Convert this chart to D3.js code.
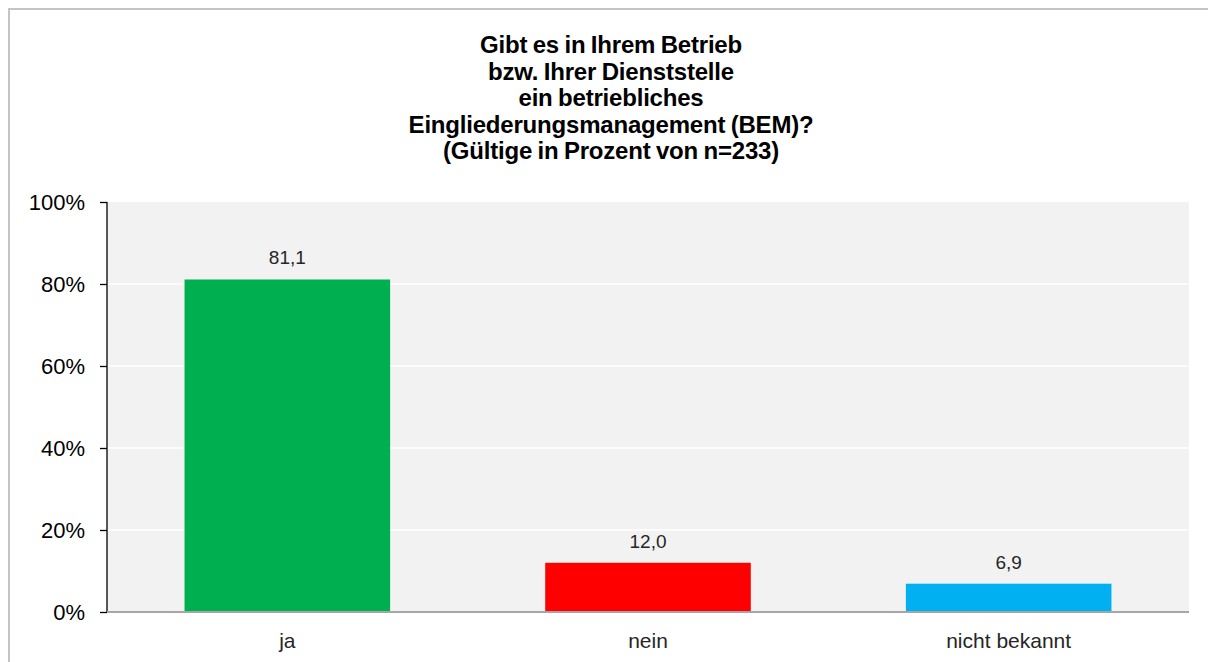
<!DOCTYPE html>
<meta charset="utf-8">
<head>
    <title>BEM</title>
</head>
<style>
    body { margin: 0; background: #fff; }
    text { font-family: "Liberation Sans", Arial, sans-serif; fill: #000; }
    .title { font-weight: bold; font-size: 24px; letter-spacing: -0.2px; word-spacing: -1px; text-anchor: middle; }
    .tick text { font-size: 22px; }
    .value { font-size: 19px; text-anchor: middle; fill: #262626; }
    .cat { font-size: 21px; text-anchor: middle; fill: #262626; }
</style>
<svg width="1208" height="662"></svg>
<script src="https://d3js.org/d3.v7.min.js"></script>
<script>

    var titleLines = ["Gibt es in Ihrem Betrieb", "bzw. Ihrer Dienststelle", "ein betriebliches",
        "Eingliederungsmanagement (BEM)?", "(Gültige in Prozent von n=233)"];
    var categories = ["ja", "nein", "nicht bekannt"];
    var values = [81.1, 12.0, 6.9];
    var colors = ["#00b050", "#ff0000", "#00b0f0"];
    var yTicks = [0, 20, 40, 60, 80, 100];

    var svg = d3.select("svg");

    // outer frame, only top and left edge are visible
    svg.append("rect")
        .attr("x", 9).attr("y", 9)
        .attr("width", 1400).attr("height", 800)
        .attr("fill", "none")
        .attr("stroke", "#c4c4c4")
        .attr("stroke-width", 2);

    svg.append("g").selectAll("text")
        .data(titleLines)
        .enter().append("text")
        .attr("class", "title")
        .attr("x", 611)
        .attr("y", function(d, i) { return 53 + i * 26.5; })
        .text(function(d) { return d; });

    var plotL = 107, plotR = 1189, plotT = 202, plotB = 612;

    var x = d3.scaleBand()
        .domain(categories)
        .range([plotL, plotR])
        .paddingInner(0.43)
        .paddingOuter(0.215);

    var y = d3.scaleLinear()
        .domain([0, 100])
        .range([plotB, plotT]);

    svg.append("rect")
        .attr("x", plotL).attr("y", plotT)
        .attr("width", plotR - plotL).attr("height", plotB - plotT)
        .attr("fill", "#f2f2f2");

    svg.append("g").selectAll("line")
        .data(yTicks.slice(1, -1))
        .enter().append("line")
        .attr("x1", plotL).attr("x2", plotR)
        .attr("y1", function(d) { return y(d); })
        .attr("y2", function(d) { return y(d); })
        .attr("stroke", "#fff")
        .attr("stroke-width", 1.5);

    svg.append("g").selectAll("rect")
        .data(values)
        .enter().append("rect")
        .attr("x", function(d, i) { return x(categories[i]); })
        .attr("width", x.bandwidth())
        .attr("y", function(d) { return y(d); })
        .attr("height", function(d) { return plotB - y(d); })
        .attr("fill", function(d, i) { return colors[i]; });

    svg.append("g").selectAll("text")
        .data(values)
        .enter().append("text")
        .attr("class", "value")
        .attr("x", function(d, i) { return x(categories[i]) + x.bandwidth() / 2; })
        .attr("y", function(d) { return y(d) - 15; })
        .text(function(d) { return d3.format(".1f")(d).replace(".", ","); });

    var yAxis = svg.append("g")
        .attr("transform", "translate(" + plotL + ",0)")
        .call(d3.axisLeft(y).tickValues(yTicks).tickSize(7).tickPadding(15)
            .tickFormat(function(d) { return d + "%"; }));
    yAxis.attr("font-family", null).attr("font-size", null);
    yAxis.selectAll("path, line").attr("stroke", "#000").attr("stroke-width", 1.3);
    yAxis.select(".domain").attr("d", "M0," + plotT + "V" + plotB);
    yAxis.selectAll("text").attr("dy", "0.36em").attr("fill", "#000");

    svg.append("line")
        .attr("x1", plotL).attr("x2", plotR)
        .attr("y1", plotB).attr("y2", plotB)
        .attr("stroke", "#a6a6a6")
        .attr("stroke-width", 2);

    svg.append("g").selectAll("text")
        .data(categories)
        .enter().append("text")
        .attr("class", "cat")
        .attr("x", function(d) { return x(d) + x.bandwidth() / 2; })
        .attr("y", 648)
        .text(function(d) { return d; });

</script>
